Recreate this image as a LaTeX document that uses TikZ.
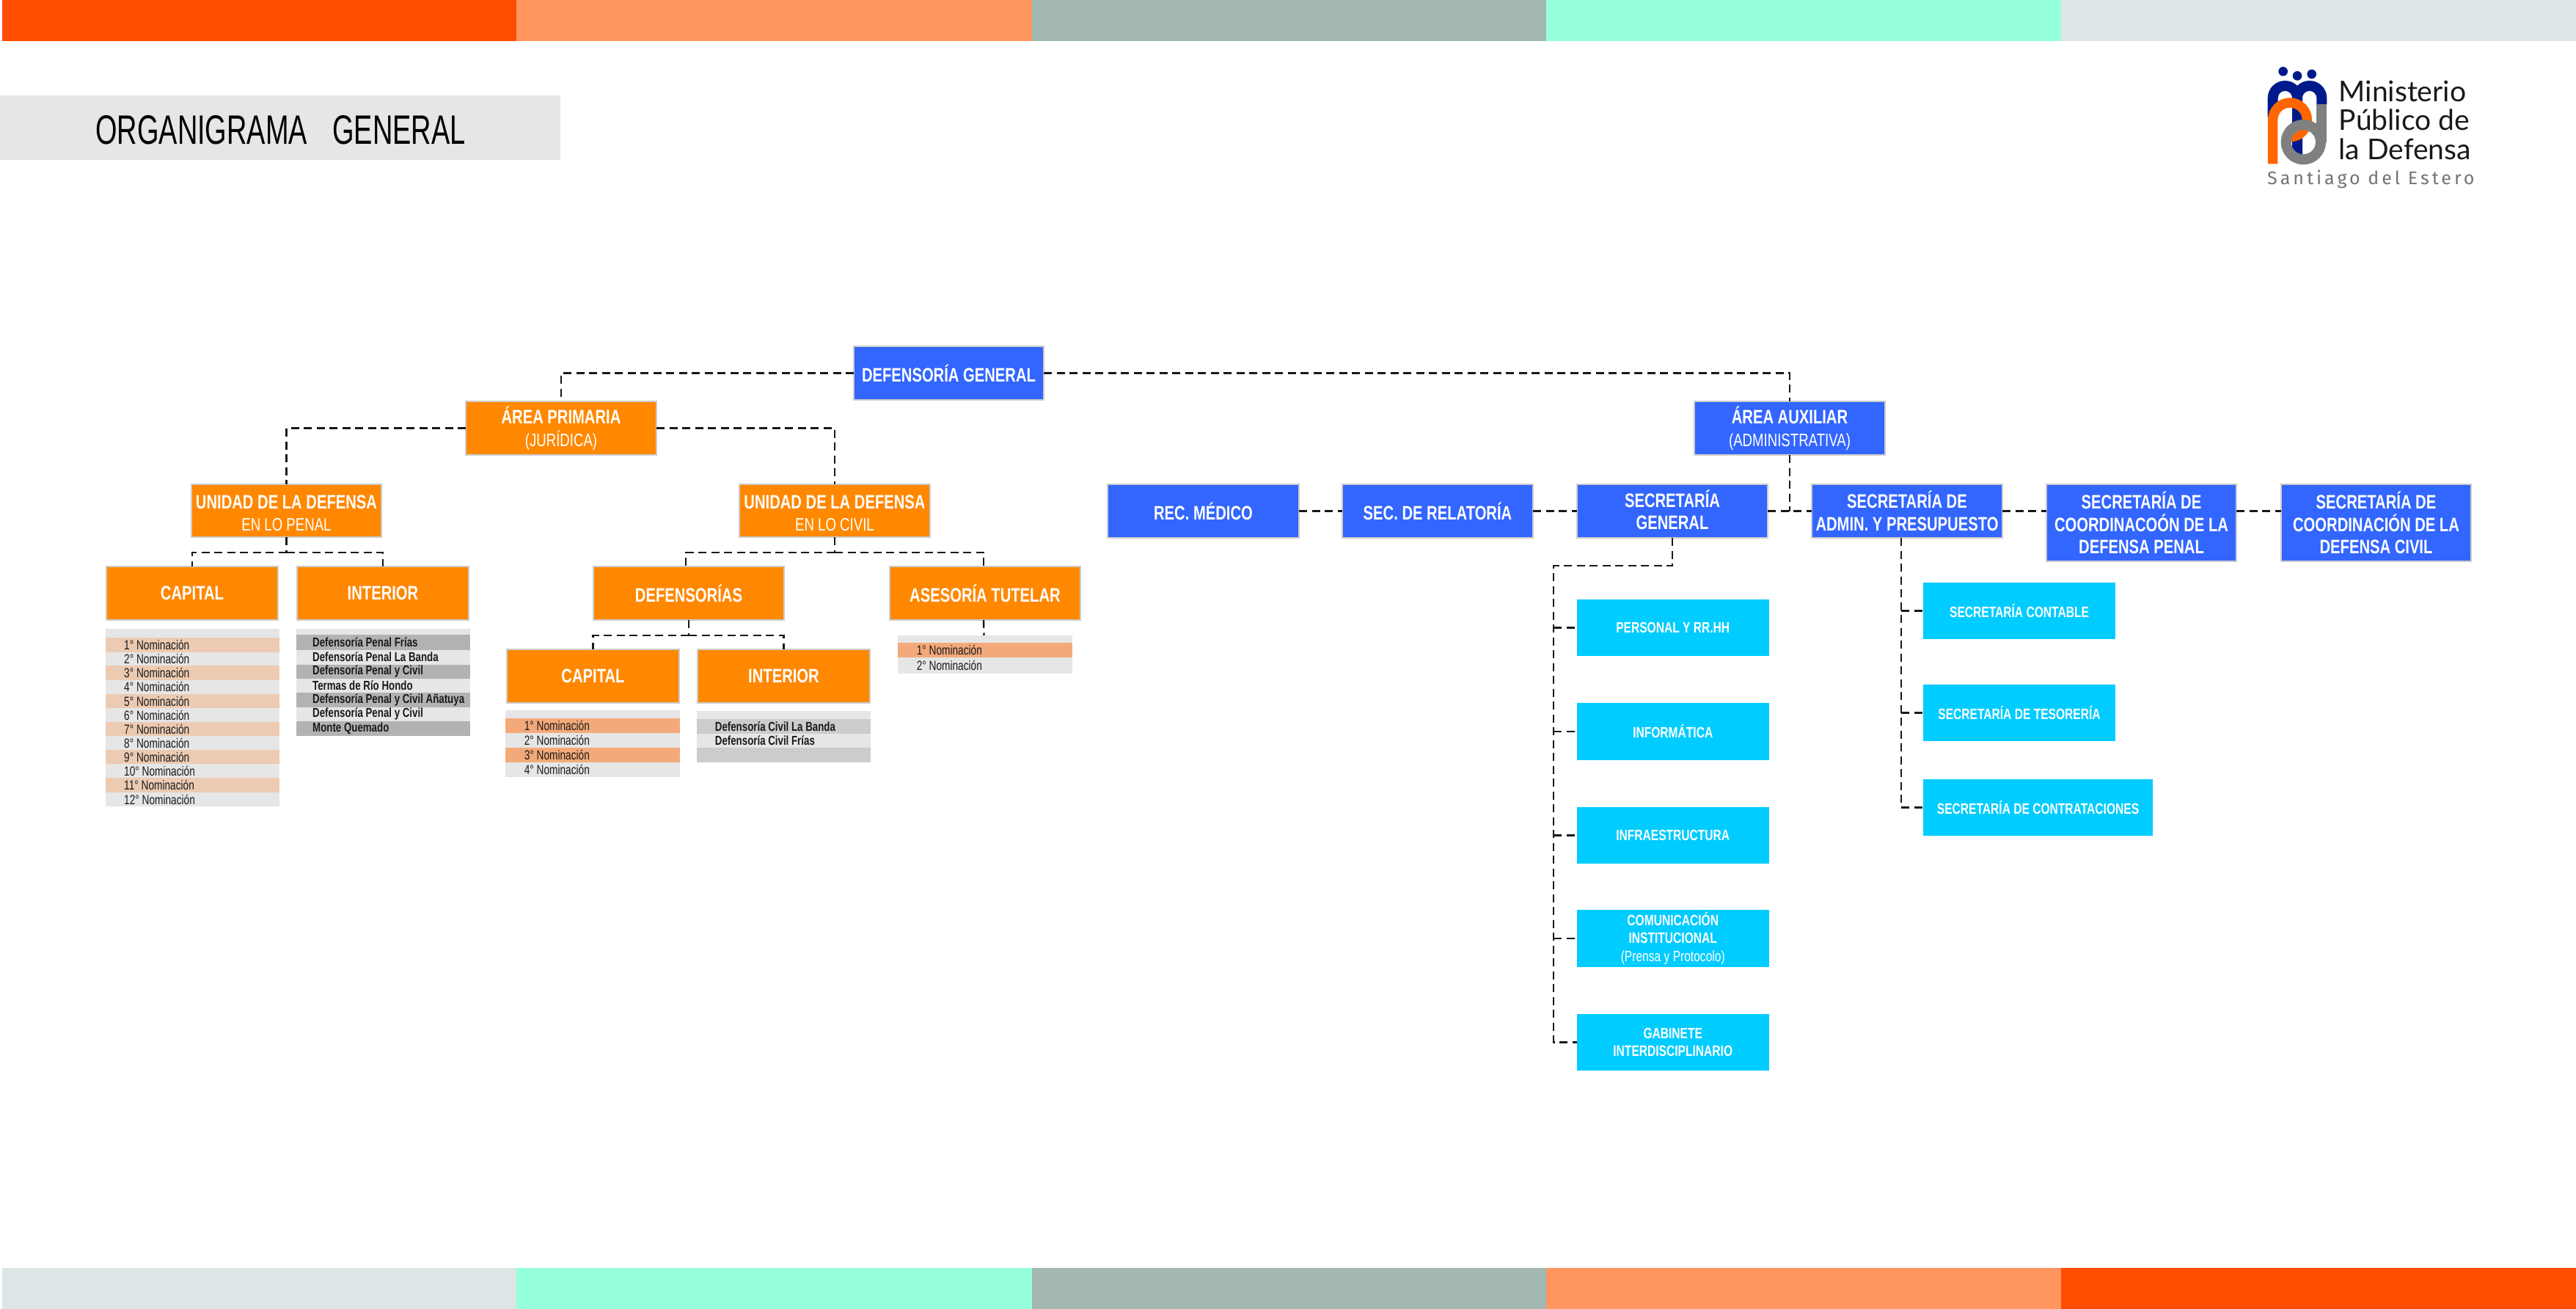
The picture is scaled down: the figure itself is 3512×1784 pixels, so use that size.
\documentclass[tikz,border=0pt]{standalone}
\usepackage{fontspec}
\setmainfont{Liberation Sans}[FakeStretch=0.76]
\newfontfamily\titlefont{Liberation Sans}[FakeStretch=0.678]
\newfontfamily\logofont{Lato}
\newfontfamily\placefont{Fira Sans}[LetterSpace=16]
\definecolor{barA}{HTML}{FF4D00}
\definecolor{barB}{HTML}{FF9660}
\definecolor{barC}{HTML}{A3B8B3}
\definecolor{barD}{HTML}{96FFDC}
\definecolor{barE}{HTML}{DDE6E6}
\definecolor{blueb}{HTML}{3366FF}
\definecolor{orangeb}{HTML}{FF8800}
\definecolor{cyanb}{HTML}{00CCFF}
\definecolor{edge}{HTML}{CCCCCC}
\definecolor{rowgrey}{HTML}{E6E6E6}
\definecolor{peach}{HTML}{ECCBB2}
\definecolor{salmon}{HTML}{F4A97A}
\definecolor{midgrey}{HTML}{B2B2B2}
\definecolor{lightgrey}{HTML}{CCCCCC}
\definecolor{logoblue}{HTML}{001A8C}
\definecolor{logoorange}{HTML}{FF6600}
\definecolor{logogrey}{HTML}{808080}
\tikzset{
  boxbase/.style={rectangle,inner sep=0pt,outer sep=0pt,align=center,text=white,line width=2pt,draw=edge,
    font=\bfseries\fontsize{26.6}{30.5}\selectfont},
  obox/.style={boxbase,fill=orangeb},
  bbox/.style={boxbase,fill=blueb},
  cbox/.style={rectangle,inner sep=0pt,outer sep=0pt,align=center,text=white,fill=cyanb,
    font=\bfseries\fontsize{20.5}{24.5}\selectfont},
  link/.style={draw=black!90,line width=2.4pt,dash pattern=on 11pt off 6.5pt},
  rowtext/.style={anchor=west,inner sep=0pt,text=black!90},
  logotext/.style={anchor=base west,inner sep=0pt,text=black!90,font=\logofont\fontsize{39}{39}\selectfont}
}
\newcommand{\bx}[7]{\node[#1,minimum width={#5-#3-2},minimum height={#6-#4-2}] (#2) at ({(#3+#5)/2},{(#4+#6)/2}) {#7};}
\newcommand{\cx}[6]{\node[cbox,minimum width={#4-#2},minimum height={#5-#3}] (#1) at ({(#2+#4)/2},{(#3+#5)/2}) {#6};}
\newcommand{\subl}[1]{{\mdseries\fontsize{24.5}{30.5}\selectfont #1}}
\newcommand{\subc}[1]{{\mdseries #1}}
\newcommand{\lowerbox}{\rule{0pt}{25pt}}
\newcommand{\raisebit}{\rule[-4pt]{0pt}{4pt}}
\newcommand{\tabx}[3]{\def\txa{#1}\def\txb{#2}\def\txc{#3}}
\newcommand{\trow}[5]{\path[fill=#4] (\txa,#2) rectangle (\txb,#3); \node[rowtext] (#1) at (\txc,{(#2+#3)/2}) {\rowfont #5};}
\newcommand{\strip}[5]{\path[fill=#1] (#2,#3) rectangle (#4,#5);}
\begin{document}
\begin{tikzpicture}[x=1pt,y=-1pt]
\useasboundingbox (0,0) rectangle (3512,1784);
% bars
\strip{barA}{2.5}{0}{704}{56}
\strip{barB}{704}{0}{1407}{56}
\strip{barC}{1407}{0}{2108}{56}
\strip{barD}{2108}{0}{2810}{56}
\strip{barE}{2810}{0}{3512}{56}
\strip{barE}{2.5}{1728}{704}{1784}
\strip{barD}{704}{1728}{1407}{1784}
\strip{barC}{1407}{1728}{2108}{1784}
\strip{barB}{2108}{1728}{2810}{1784}
\strip{barA}{2810}{1728}{3512}{1784}
% title
\path[fill=rowgrey] (0,130) rectangle (764,218);
\node[anchor=west,inner sep=0pt,text=black,font=\titlefont\fontsize{56}{56}\selectfont] (title) at (130,177) {ORGANIGRAMA\hspace{34pt}GENERAL};
% logo
\begin{scope}[shift={(3000,60)},x=0.3333pt,y=-0.3333pt]
\fill[logoblue] (338,112) circle[radius=19] (396,130) circle[radius=19] (455,123) circle[radius=19];
\draw[logoblue,line width=14pt] (296,300) -- (296,221) arc[start angle=180,end angle=360,radius=50] -- (396,450);
\draw[logoblue,line width=14pt] (396,221) arc[start angle=180,end angle=360,radius=50] -- (496,246);
\draw[logoorange,line width=13.4pt] (296,490) -- (296,310) arc[start angle=180,end angle=450,radius=70];
\draw[logogrey,line width=14pt] (421,401) circle[radius=71];
\draw[logogrey,line width=14pt] (494,245) -- (494,401);
\end{scope}
\node[logotext] (l1) at (3188.5,138.3) {Ministerio};
\node[logotext] (l2) at (3188.5,177.3) {Público de};
\node[logotext] (l3) at (3188.5,217.3) {la Defensa};
\node[anchor=base west,inner sep=0pt,text=logogrey!90!black,font=\placefont\fontsize{25}{25}\selectfont] (l4) at (3091,251.7) {Santiago del Estero};
% top
\bx{bbox}{dg}{1163}{471}{1424}{546}{DEFENSORÍA GENERAL}
\bx{obox}{ap}{634}{546}{896}{621}{ÁREA PRIMARIA\\\subl{(JURÍDICA)}}
\bx{bbox}{aa}{2309}{546}{2571}{621}{ÁREA AUXILIAR\\\subl{(ADMINISTRATIVA)}}
\bx{obox}{up}{260}{659}{521}{733}{\lowerbox UNIDAD DE LA DEFENSA\\\subl{EN LO PENAL}}
\bx{obox}{uc}{1007}{659}{1269}{733}{\lowerbox UNIDAD DE LA DEFENSA\\\subl{EN LO CIVIL}}
\bx{obox}{pcap}{144}{771}{380}{846}{CAPITAL}
\bx{obox}{pint}{404}{771}{640}{846}{INTERIOR}
\bx{obox}{def}{808}{771}{1070}{846}{DEFENSORÍAS}
\bx{obox}{ase}{1212}{771}{1474}{846}{ASESORÍA TUTELAR}
\bx{obox}{ccap}{690}{884}{927}{959}{CAPITAL}
\bx{obox}{cint}{950}{884}{1187}{959}{INTERIOR}
\bx{bbox}{rm}{1509}{659}{1772}{734}{REC. MÉDICO}
\bx{bbox}{sr}{1829}{659}{2091}{734}{SEC. DE RELATORÍA}
\bx{bbox}{sg}{2149}{659}{2411}{734}{SECRETARÍA\\GENERAL\raisebit}
\bx{bbox}{sa}{2469}{659}{2731}{734}{SECRETARÍA DE\\ADMIN. Y PRESUPUESTO}
\bx{bbox}{cp}{2789}{659}{3050}{766}{SECRETARÍA DE\\COORDINACOÓN DE LA\\DEFENSA PENAL}
\bx{bbox}{cc}{3109}{659}{3370}{766}{SECRETARÍA DE\\COORDINACIÓN DE LA\\DEFENSA CIVIL}
% cyan
\cx{pers}{2149.5}{817}{2412}{894}{PERSONAL Y RR.HH}
\cx{info}{2149.5}{958}{2412}{1036}{INFORMÁTICA}
\cx{infr}{2149.5}{1100}{2412}{1177}{INFRAESTRUCTURA}
\cx{comu}{2149.5}{1240}{2412}{1318}{COMUNICACIÓN\\INSTITUCIONAL\\\subc{(Prensa y Protocolo)}}
\cx{gabi}{2149.5}{1382}{2412}{1459}{GABINETE\\INTERDISCIPLINARIO}
\cx{cont}{2622}{794}{2884}{871}{SECRETARÍA CONTABLE}
\cx{teso}{2622}{933}{2884}{1010}{SECRETARÍA DE TESORERÍA}
\cx{cntr}{2622}{1062}{2935}{1139}{SECRETARÍA DE CONTRATACIONES}
% tables
\def\rowfont{\mdseries\fontsize{18}{20}\selectfont}
\tabx{144}{381}{169}
\path[fill=rowgrey] (144,856.5) rectangle (381,869);
\trow{a1}{869}{889}{peach}{1° Nominación}
\trow{a2}{889}{906.5}{rowgrey}{2° Nominación}
\trow{a3}{906.5}{926.5}{peach}{3° Nominación}
\trow{a4}{926.5}{946}{rowgrey}{4° Nominación}
\trow{a5}{946}{965}{peach}{5° Nominación}
\trow{a6}{965}{984}{rowgrey}{6° Nominación}
\trow{a7}{984}{1003}{peach}{7° Nominación}
\trow{a8}{1003}{1022}{rowgrey}{8° Nominación}
\trow{a9}{1022}{1041}{peach}{9° Nominación}
\trow{a10}{1041}{1060}{rowgrey}{10° Nominación}
\trow{a11}{1060}{1080}{peach}{11° Nominación}
\trow{a12}{1080}{1099}{rowgrey}{12° Nominación}
\def\rowfont{\bfseries\fontsize{17.5}{20}\selectfont}
\tabx{404}{641}{426}
\path[fill=rowgrey] (404,856.5) rectangle (641,865);
\trow{b1}{865}{885.5}{midgrey}{Defensoría Penal Frías}
\trow{b2}{885.5}{905.5}{rowgrey}{Defensoría Penal La Banda}
\trow{b3}{905.5}{925}{midgrey}{Defensoría Penal y Civil}
\trow{b4}{925}{944}{rowgrey}{Termas de Río Hondo}
\trow{b5}{944}{964}{midgrey}{Defensoría Penal y Civil Añatuya}
\trow{b6}{964}{982.5}{rowgrey}{Defensoría Penal y Civil}
\trow{b7}{982.5}{1003}{midgrey}{Monte Quemado}
\def\rowfont{\mdseries\fontsize{18}{20}\selectfont}
\tabx{689}{927}{714.6}
\path[fill=rowgrey] (689,968) rectangle (927,979);
\trow{c1}{979}{999}{salmon}{1° Nominación}
\trow{c2}{999}{1019}{rowgrey}{2° Nominación}
\trow{c3}{1019}{1039}{salmon}{3° Nominación}
\trow{c4}{1039}{1059}{rowgrey}{4° Nominación}
\def\rowfont{\bfseries\fontsize{17.5}{20}\selectfont}
\tabx{949.5}{1187}{974.7}
\path[fill=rowgrey] (949.5,969) rectangle (1187,980);
\trow{d1}{980}{1000}{lightgrey}{Defensoría Civil La Banda}
\trow{d2}{1000}{1019}{rowgrey}{Defensoría Civil Frías}
\path[fill=lightgrey] (949.5,1019) rectangle (1187,1039);
\def\rowfont{\mdseries\fontsize{18}{20}\selectfont}
\tabx{1224}{1461.5}{1249.6}
\path[fill=rowgrey] (1224,866) rectangle (1461.5,876);
\trow{e1}{876}{896}{salmon}{1° Nominación}
\trow{e2}{896}{918}{rowgrey}{2° Nominación}
% connectors
\draw[link] (dg.west) -| (ap.north);
\draw[link] (dg.east) -| (aa.north);
\draw[link] (ap.west) -| (up.north);
\draw[link] (ap.east) -| (uc.north);
\coordinate (jp) at (390.5,753);
\draw[link] (up.south) -- (jp);
\draw[link] (jp) -| (pcap.north);
\draw[link] (jp) -| (pint.north);
\coordinate (jc) at (1138,753);
\draw[link] (uc.south) -- (jc);
\draw[link] (jc) -| ([xshift=-4pt]def.north);
\draw[link] (jc) -| ([xshift=-2pt]ase.north);
\coordinate (jd) at (939,866);
\draw[link] (def.south) -- (jd);
\draw[link] (jd) -| (ccap.north);
\draw[link] (jd) -| (cint.north);
\coordinate (tabe) at (1341.5,866);
\draw[link] ([xshift=-2pt]ase.south) -- (tabe);
\draw[link] (rm.east) -- (sr.west);
\draw[link] (sr.east) -- (sg.west);
\draw[link] (sg.east) -- (sa.west);
\draw[link] (aa.south) -- (aa.south |- sg.east);
\draw[link] (sa.east) -- (sa.east -| cp.west);
\draw[link] (sa.east -| cp.east) -- (sa.east -| cc.west);
\coordinate (sgj) at (2118,771);
\draw[link] (sg.south) |- (sgj) -- (sgj |- gabi.west) -- (gabi.west);
\draw[link] (sgj |- pers.west) -- (pers.west);
\draw[link] (sgj |- info.west) -- (info.west);
\draw[link] (sgj |- infr.west) -- (infr.west);
\draw[link] (sgj |- comu.west) -- (comu.west);
\coordinate (sab) at ([xshift=-8pt]sa.south);
\draw[link] (sab) -- (sab |- cntr.west) -- (cntr.west);
\draw[link] (sab |- cont.west) -- (cont.west);
\draw[link] (sab |- teso.west) -- (teso.west);
\end{tikzpicture}
\end{document}
